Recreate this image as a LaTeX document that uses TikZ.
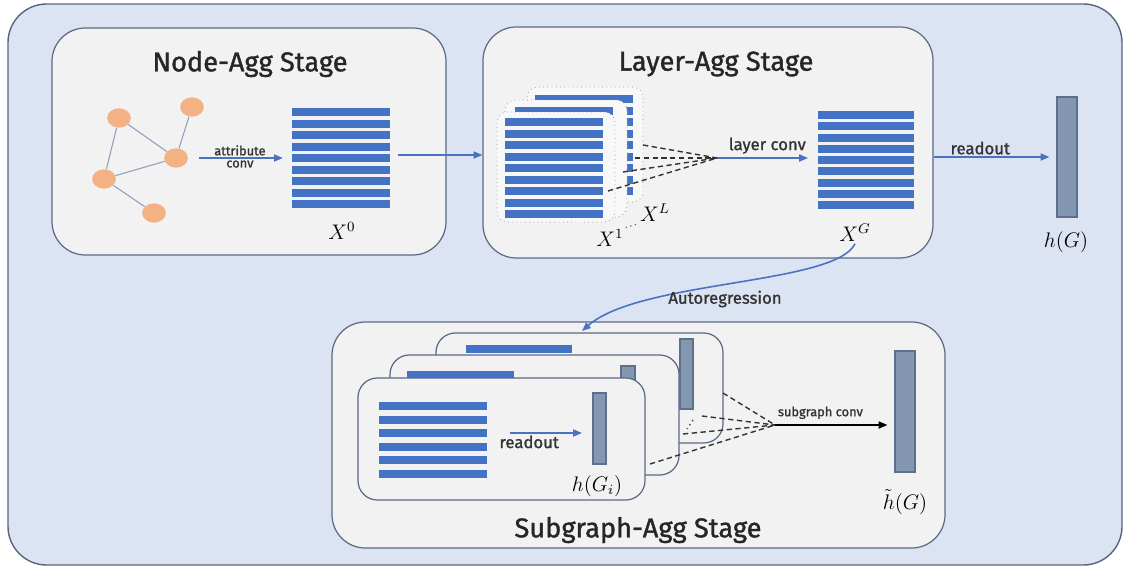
\documentclass[tikz,border=0pt]{standalone}
\usepackage{fontspec}
\setmainfont{Fira Sans}
\newfontfamily\medfont{Fira Sans}[FakeBold=1.2]
\usetikzlibrary{shapes.geometric,fit,arrows.meta}
\definecolor{bgblue}{HTML}{DCE4F4}
\definecolor{outeredge}{HTML}{56657F}
\definecolor{edgeblue}{HTML}{5A6A85}
\definecolor{stagegray}{HTML}{F2F2F2}
\definecolor{cardgray}{HTML}{F8F8F8}
\definecolor{barblue}{HTML}{4472C4}
\definecolor{flowblue}{HTML}{4A72C0}
\definecolor{nodeorange}{HTML}{F4B183}
\definecolor{edgegray}{HTML}{8E9DC0}
\definecolor{vecfill}{HTML}{8497B0}
\definecolor{vecedge}{HTML}{5C6F8C}
% rows of feature bars: x1, x2, top y, rows-1, pitch
\newcommand\barrows[5]{\foreach \k in {0,...,#4} \fill[barblue] (#1,{#3+\k*#5}) rectangle (#2,{#3+\k*#5+8});}
\begin{document}
\begin{tikzpicture}[x=0.02cm, y=-0.02cm,
    stage/.style={draw=edgeblue, fill=stagegray, line width=0.7pt, rounded corners=19pt, inner sep=0pt},
    title/.style={font=\medfont\fontsize{15.5}{18}\selectfont, text=black!85},
    gnode/.style={ellipse, fill=nodeorange, minimum width=13.5pt, minimum height=11pt, inner sep=0pt},
    gedge/.style={draw=edgegray, line width=0.6pt},
    flow/.style={draw=flowblue, line width=0.9pt, -{Triangle[length=5pt,width=4pt]}},
    lab/.style={font=\medfont\fontsize{9.5}{11}\selectfont, text=black!80, inner sep=1pt},
    tiny/.style={font=\medfont\fontsize{7.3}{8}\selectfont, text=black!80, align=center, inner sep=1pt},
    mlab/.style={font=\fontsize{12}{14}\selectfont, inner sep=1pt},
    vec/.style={draw=vecedge, fill=vecfill, line width=0.6pt, inner sep=0pt},
    card/.style={draw=black!45, dotted, fill=cardgray, rounded corners=6pt, inner sep=0pt},
    subcard/.style={draw=edgeblue, fill=stagegray, line width=0.7pt, rounded corners=11pt, inner sep=0pt},
    conv/.style={densely dashed, line width=0.8pt, black!80}]
    \useasboundingbox (0,0) rectangle (1125,568);
    % Background
    \draw[draw=outeredge, fill=bgblue, line width=0.8pt, rounded corners=22pt] (8,4) rectangle (1122,565);

    % Node-Agg stage
    \node[stage, fit={(52,28) (446,255)}] (nodeagg) {};
    \node[title] (tnode) at (250,64) {Node-Agg Stage};
    \node[gnode] (a) at (119,118) {};
    \node[gnode] (b) at (192,107) {};
    \node[gnode] (c) at (176,158) {};
    \node[gnode] (d) at (104,179) {};
    \node[gnode] (e) at (154,213) {};
    \draw[gedge] (a) -- (c);
    \draw[gedge] (a) -- (d);
    \draw[gedge] (c) -- (d);
    \draw[gedge] (b) -- (c);
    \draw[gedge] (d) -- (e);
    \node[fit={(292,108) (390,208)}, inner sep=0pt] (x0) {};
    \barrows{292}{390}{108}{8}{11.5}
    \node[mlab] (x0l) at (342,231) {$X^0$};
    \draw[flow, shorten <=6pt, shorten >=5pt] (c.east) -- (x0.west |- c.east)
        node[tiny, midway, above] {attribute} node[tiny, midway, below] {conv};

    % Layer-Agg stage
    \node[stage, fit={(483,27) (933,258)}] (layer) {};
    \node[title] (tlayer) at (716,64) {Layer-Agg Stage};
    \draw[flow, shorten <=4.5pt] (x0.east |- 0,155) -- (layer.west |- 0,155);
    \node[card, fit={(527,87) (643,202)}] (lback) {};
    \barrows{535}{633}{95}{8}{11.5}
    \node[card, fit={(505,100) (627,217)}] (lmid) {};
    \barrows{515}{613}{107}{8}{11.5}
    \node[card, fit={(497,112) (615,222)}] (lfront) {};
    \barrows{505}{603}{118}{8}{11.5}
    \coordinate (lc) at (717,158);
    \coordinate (l1) at (643,145);
    \coordinate (l2) at (635,158);
    \coordinate (l3) at (623,172);
    \coordinate (l4) at (608,191);
    \foreach \p in {l1,l2,l3,l4} \draw[conv] (\p) -- (lc);
    \node[mlab] (xll) at (655,213) {$X^L$};
    \node[mlab] (x1l) at (610,238) {$X^1$};
    \draw[dotted, line width=0.7pt, black!60] (x1l.north east) -- (xll.south west);
    \node[fit={(818,111) (914,209)}, inner sep=0pt] (xg) {};
    \barrows{818}{914}{111}{8}{11.25}
    \node[mlab] (xgl) at (855,233) {$X^G$};
    \draw[flow, shorten >=5.5pt] (lc) -- (xg.west |- lc)
        node[lab, midway, above, yshift=1pt] {layer conv};

    % readout to h(G)
    \node[vec, fit={(1057,97) (1077,217)}] (hg) {};
    \node[mlab] (hgl) at (1066,242) {$h(G)$};
    \draw[flow, shorten >=4pt] (layer.east |- hg.west) -- (hg.west)
        node[lab, pos=0.38, above] {readout};

    % Subgraph-Agg stage
    \node[stage, fit={(332,322) (945,548)}] (subagg) {};
    \node[title] (tsub) at (638,530) {Subgraph-Agg Stage};
    \node[subcard, fit={(436,333) (723,443)}] (sback) {};
    \fill[barblue] (466,345) rectangle (572,353);
    \node[vec, fit={(680,339) (693,409)}] (vback) {};
    \node[subcard, fit={(390,355) (679,475)}] (smid) {};
    \fill[barblue] (407,371) rectangle (514,378);
    \node[vec, fit={(621,366) (635,436)}] (vmid) {};
    \node[subcard, fit={(358,378) (645,500)}] (sfront) {};
    \barrows{379}{487}{402}{5}{13.6}
    \node[vec, fit={(593,393) (606,464)}] (hgi) {};
    \node[mlab] (hgil) at (597,486) {$h(G_i)$};
    \draw[flow, shorten <=13pt, shorten >=6pt] (487,433) -- (hgi.west |- 0,433)
        node[lab, pos=0.4, below] {readout};
    \coordinate (sc) at (775,425);
    \coordinate (s1) at (723,393);
    \coordinate (s2) at (702,416);
    \coordinate (s3) at (683,434);
    \coordinate (s4) at (650,464);
    \foreach \p in {s1,s2,s3,s4} \draw[conv] (\p) -- (sc);
    \draw[dotted, line width=0.8pt, black!70] (693,420) -- (687,429);
    \node[vec, fit={(895,351) (915,472)}] (ht) {};
    \node[mlab] (htl) at (905,502) {$\tilde{h}(G)$};
    \draw[line width=0.9pt, -{Triangle[length=5pt,width=4pt]}, shorten >=4pt] (sc) -- (ht.west |- sc)
        node[tiny, pos=0.38, above, yshift=2pt] {subgraph conv};

    % Autoregression
    \coordinate (arend) at (582,331);
    \draw[flow] (xgl.south) .. controls (835,285) and (640,280) .. (arend);
    \node[lab] (artext) at (725,299) {Autoregression};
\end{tikzpicture}
\end{document}
